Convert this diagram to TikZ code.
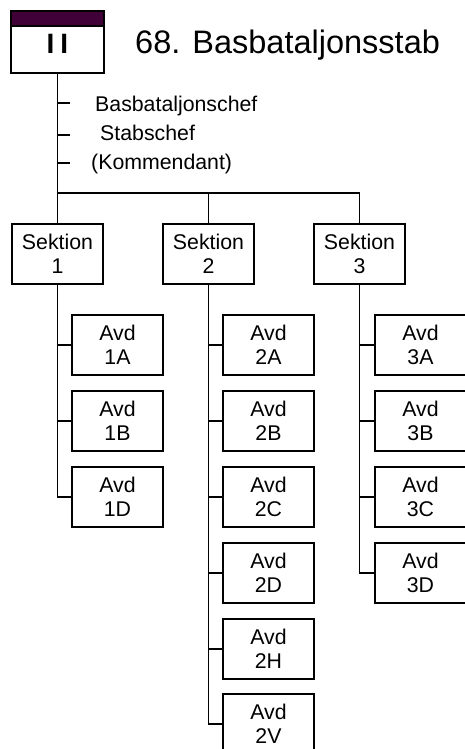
\documentclass[tikz,border=0pt]{standalone}
\usepackage{fontspec}
\setmainfont{Liberation Sans}
\definecolor{unitpurple}{RGB}{64,0,56}
\begin{document}
\begin{tikzpicture}[x=1pt,y=-1pt,
  boxstyle/.style={draw=black, line width=1.7pt, fill=white, minimum width=91pt, minimum height=60pt, inner sep=0pt, align=center, font=\fontsize{21.3}{24}\selectfont},
  conn/.style={draw=black, line width=1.4pt},
  stafftext/.style={anchor=base west, inner sep=0pt, font=\fontsize{21.3}{24}\selectfont}]
\useasboundingbox (0,0) rectangle (464,749);
% unit symbol
\fill[unitpurple] (11,11) rectangle (104,27);
\node[draw=black, line width=1.7pt, minimum width=93pt, minimum height=62pt, inner sep=0pt] (unit) at (57.5,42) {};
\draw[line width=1.7pt] (unit.north west) ++(0,16) -- ++(93,0);
\node[inner sep=0pt, font=\fontsize{28}{28}\bfseries] (unitsize) at (57.5,44) {I\hspace{6pt}I};
\node[anchor=base west, inner sep=0pt, font=\fontsize{32.5}{39}\selectfont] (title) at (135,53.5) {68. Basbataljonsstab};
% staff
\coordinate (trunkend) at (57.5,193);
\coordinate (t1) at (57.5,103);
\coordinate (t2) at (57.5,135);
\coordinate (t3) at (57.5,163);
\draw[conn] (unit.south) -- (trunkend);
\draw[conn] (t1) -- ++(12.5,0);
\draw[conn] (t2) -- ++(12.5,0);
\draw[conn] (t3) -- ++(12.5,0);
\node[stafftext] (chef) at (95,111.5) {Basbataljonschef};
\node[stafftext] (stab) at (100,140) {Stabschef};
\node[stafftext] (komm) at (91,169) {(Kommendant)};
% sections
\node[boxstyle] (s1) at (57.5,254) {Sektion\\1};
\node[boxstyle] (s2) at (208.5,254) {Sektion\\2};
\node[boxstyle] (s3) at (359.5,254) {Sektion\\3};
\draw[conn] (trunkend) -- (trunkend -| s3.north) -- (s3.north);
\draw[conn] (trunkend) -- (s1.north);
\draw[conn] (trunkend -| s2.north) -- (s2.north);
% section 1
\node[boxstyle] (a1A) at (117.5,345) {Avd\\1A};
\node[boxstyle] (a1B) at (117.5,421) {Avd\\1B};
\node[boxstyle] (a1D) at (117.5,497) {Avd\\1D};
% section 2
\node[boxstyle] (a2A) at (268.5,345) {Avd\\2A};
\node[boxstyle] (a2B) at (268.5,421) {Avd\\2B};
\node[boxstyle] (a2C) at (268.5,497) {Avd\\2C};
\node[boxstyle] (a2D) at (268.5,573) {Avd\\2D};
\node[boxstyle] (a2H) at (268.5,649) {Avd\\2H};
\node[boxstyle] (a2V) at (268.5,724) {Avd\\2V};
% section 3
\node[boxstyle] (a3A) at (420.5,345) {Avd\\3A};
\node[boxstyle] (a3B) at (420.5,421) {Avd\\3B};
\node[boxstyle] (a3C) at (420.5,497) {Avd\\3C};
\node[boxstyle] (a3D) at (420.5,573) {Avd\\3D};
% connectors
\draw[conn] (s1.south) |- (a1D.west);
\foreach \n in {a1A,a1B} \draw[conn] (s1.south |- \n.west) -- (\n.west);
\draw[conn] (s2.south) |- (a2V.west);
\foreach \n in {a2A,a2B,a2C,a2D,a2H} \draw[conn] (s2.south |- \n.west) -- (\n.west);
\draw[conn] (s3.south) |- (a3D.west);
\foreach \n in {a3A,a3B,a3C} \draw[conn] (s3.south |- \n.west) -- (\n.west);
\end{tikzpicture}
\end{document}
